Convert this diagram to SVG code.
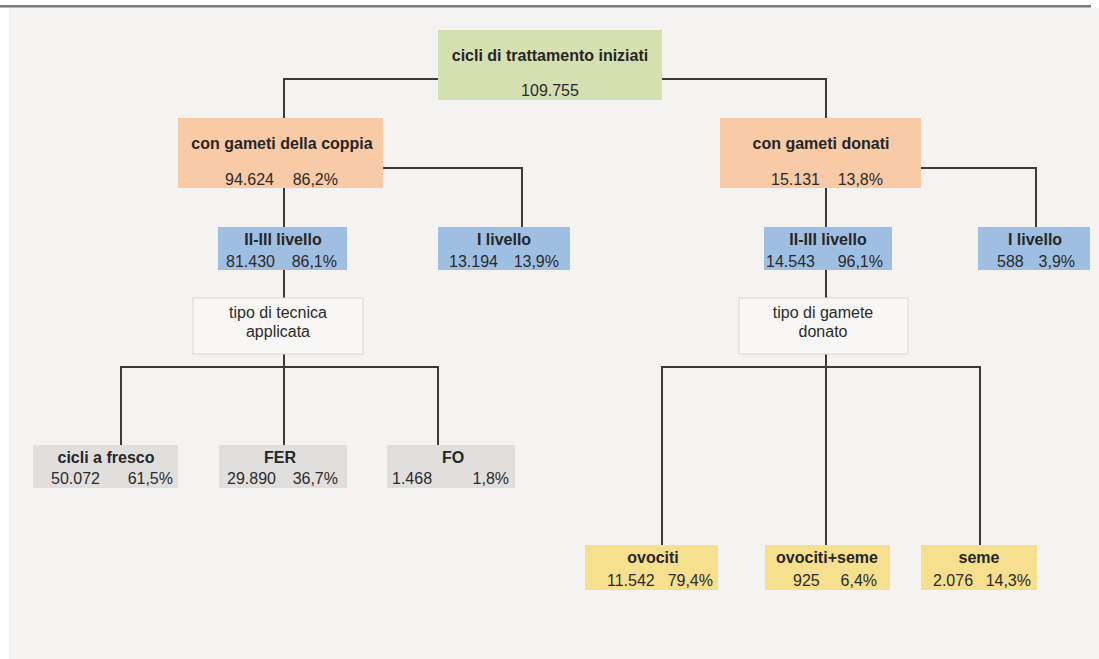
<svg xmlns="http://www.w3.org/2000/svg" width="1099" height="659" viewBox="0 0 1099 659">
<style>
.b{font-family:"Liberation Sans",Arial,sans-serif;font-weight:bold;font-size:16px;fill:#262626;text-anchor:middle}
.n{font-family:"Liberation Sans",Arial,sans-serif;font-size:16px;fill:#2b2b2b}
.c{text-anchor:middle}
.e{text-anchor:end}
.green{fill:#d5e0b0}
.peach{fill:#f8caa6}
.blue{fill:#9fbfe2}
.gray{fill:#e1dfde}
.yel{fill:#f6df8d}
.tipo{fill:#f8f7f5;stroke:#dcdad8;stroke-width:1}
.conn path{fill:none;stroke:#3a3a3a;stroke-width:2}
</style>
<rect x="0" y="0" width="1099" height="659" fill="#ffffff"/>
<rect x="9" y="8" width="1090" height="651" fill="#f4f3f1"/>
<rect x="0" y="5" width="1091" height="2.5" fill="#7a7a7a"/>
<g class="conn" id="connectors">
<path d="M438,79 H284 V118"/>
<path d="M662,79 H826 V118"/>
<path d="M383,168 H522 V227"/>
<path d="M284,188 V227"/>
<path d="M284,270 V298"/>
<path d="M284,354 V445"/>
<path d="M121,445 V367 H438 V445"/>
<path d="M921,168 H1036 V227"/>
<path d="M826,188 V227"/>
<path d="M826,270 V298"/>
<path d="M826,354 V545"/>
<path d="M662,545 V367 H980 V545"/>
</g>
<g id="root"><rect class="green" x="438" y="30" width="224" height="70"/><text class="b" x="550" y="61">cicli di trattamento iniziati</text><text class="n c" x="550" y="96">109.755</text></g>
<g id="coppia"><rect class="peach" x="178" y="118" width="205" height="70"/><text class="b" x="282" y="149">con gameti della coppia</text><text class="n" x="225" y="185">94.624</text><text class="n e" x="338" y="185">86,2%</text></g>
<g id="donati"><rect class="peach" x="720" y="118" width="201" height="70"/><text class="b" x="821" y="149">con gameti donati</text><text class="n" x="771" y="185">15.131</text><text class="n e" x="883" y="185">13,8%</text></g>
<g id="c-23"><rect class="blue" x="218" y="227" width="129" height="43"/><text class="b" x="283" y="245">II-III livello</text><text class="n" x="226" y="267">81.430</text><text class="n e" x="337" y="267">86,1%</text></g>
<g id="c-1"><rect class="blue" x="438" y="227" width="132" height="43"/><text class="b" x="504" y="245">I livello</text><text class="n" x="449" y="267">13.194</text><text class="n e" x="559" y="267">13,9%</text></g>
<g id="d-23"><rect class="blue" x="764" y="227" width="128" height="43"/><text class="b" x="828" y="245">II-III livello</text><text class="n" x="766" y="267">14.543</text><text class="n e" x="883" y="267">96,1%</text></g>
<g id="d-1"><rect class="blue" x="978" y="227" width="112" height="43"/><text class="b" x="1035" y="245">I livello</text><text class="n" x="997" y="267">588</text><text class="n e" x="1075" y="267">3,9%</text></g>
<g id="tecnica"><rect class="tipo" x="193" y="298" width="170" height="56"/><text class="n c" x="278" y="318">tipo di tecnica</text><text class="n c" x="278" y="337">applicata</text></g>
<g id="gamete"><rect class="tipo" x="739" y="298" width="169" height="56"/><text class="n c" x="823" y="318">tipo di gamete</text><text class="n c" x="823" y="337">donato</text></g>
<g id="fresco"><rect class="gray" x="33" y="445" width="145" height="43"/><text class="b" x="106" y="463">cicli a fresco</text><text class="n" x="51" y="484">50.072</text><text class="n e" x="173" y="484">61,5%</text></g>
<g id="fer"><rect class="gray" x="219" y="445" width="128" height="43"/><text class="b" x="280" y="463">FER</text><text class="n" x="227" y="484">29.890</text><text class="n e" x="338" y="484">36,7%</text></g>
<g id="fo"><rect class="gray" x="387" y="445" width="128" height="43"/><text class="b" x="453" y="463">FO</text><text class="n" x="392" y="484">1.468</text><text class="n e" x="509" y="484">1,8%</text></g>
<g id="ovociti"><rect class="yel" x="585" y="545" width="133" height="45"/><text class="b" x="653" y="563">ovociti</text><text class="n" x="607" y="586">11.542</text><text class="n e" x="713" y="586">79,4%</text></g>
<g id="ovociti-seme"><rect class="yel" x="765" y="545" width="125" height="45"/><text class="b" x="827" y="563">ovociti+seme</text><text class="n" x="793" y="586">925</text><text class="n e" x="877" y="586">6,4%</text></g>
<g id="seme"><rect class="yel" x="921" y="545" width="116" height="45"/><text class="b" x="979" y="563">seme</text><text class="n" x="933" y="586">2.076</text><text class="n e" x="1031" y="586">14,3%</text></g>
</svg>
